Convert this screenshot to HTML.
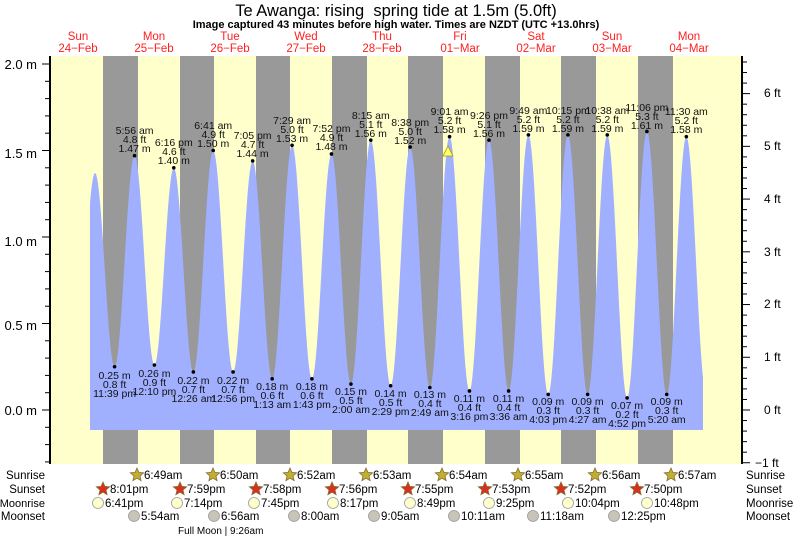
<!DOCTYPE html>
<html><head><meta charset="utf-8"><style>
html,body{margin:0;padding:0;background:#fff}
svg{display:block;font-family:"Liberation Sans",sans-serif}
</style></head><body>
<svg id="s" width="793" height="537" viewBox="0 0 793 537" xmlns="http://www.w3.org/2000/svg">
<defs><clipPath id="c"><rect x="90" y="0" width="613" height="537"/></clipPath></defs>
<rect x="50" y="56" width="692" height="408" fill="#ffffcc"/>
<g fill="#999999">
<rect x="103" y="56" width="35" height="408"/><rect x="180" y="56" width="34" height="408"/>
<rect x="256" y="56" width="34" height="408"/><rect x="332" y="56" width="35" height="408"/>
<rect x="408" y="56" width="35" height="408"/><rect x="485" y="56" width="35" height="408"/>
<rect x="561" y="56" width="35" height="408"/><rect x="638" y="56" width="35" height="408"/>
</g>
<path id="tide" fill="#a0b0ff" clip-path="url(#c)" d=""/>
<line x1="50" y1="56" x2="50" y2="464" stroke="#000" stroke-width="2"/>
<line x1="742" y1="56" x2="742" y2="464" stroke="#000" stroke-width="2"/>
<g id="ticks" stroke="#000" stroke-width="1"></g>
<g font-size="13" fill="#000" text-anchor="end">
<text x="37" y="69">2.0 m</text><text x="37" y="158">1.5 m</text><text x="37" y="246">1.0 m</text><text x="37" y="330">0.5 m</text><text x="37" y="415">0.0 m</text>
</g>
<g font-size="12" fill="#000">
<text x="764" y="97">6 ft</text><text x="764" y="150">5 ft</text><text x="764" y="203">4 ft</text><text x="764" y="256">3 ft</text><text x="764" y="308">2 ft</text><text x="764" y="361">1 ft</text><text x="764" y="414">0 ft</text><text x="755" y="467">−1 ft</text>
</g>
<text x="396" y="16" font-size="16.5" text-anchor="middle" xml:space="preserve">Te Awanga: rising  spring tide at 1.5m (5.0ft)</text>
<text x="396" y="28" font-size="11" font-weight="bold" text-anchor="middle">Image captured 43 minutes before high water. Times are NZDT (UTC +13.0hrs)</text>
<g font-size="11.5" fill="#ff2020" text-anchor="middle">
<text x="78" y="40">Sun</text><text x="78" y="52">24−Feb</text>
<text x="154" y="40">Mon</text><text x="154" y="52">25−Feb</text>
<text x="230" y="40">Tue</text><text x="230" y="52">26−Feb</text>
<text x="306" y="40">Wed</text><text x="306" y="52">27−Feb</text>
<text x="382" y="40">Thu</text><text x="382" y="52">28−Feb</text>
<text x="460" y="40">Fri</text><text x="460" y="52">01−Mar</text>
<text x="536" y="40">Sat</text><text x="536" y="52">02−Mar</text>
<text x="612" y="40">Sun</text><text x="612" y="52">03−Mar</text>
<text x="689" y="40">Mon</text><text x="689" y="52">04−Mar</text>
</g>
<g id="dots" fill="#000"></g>
<polygon points="443,156 453,156 448,146" fill="#ffff66" stroke="#aa9900" stroke-width="0.8"/>
<g font-size="10.5" fill="#111" text-anchor="middle">
<text x="134.6" y="134">5:56 am</text><text x="134.6" y="143">4.8 ft</text><text x="134.6" y="152">1.47 m</text>
<text x="173.8" y="146">6:16 pm</text><text x="173.8" y="155">4.6 ft</text><text x="173.8" y="164">1.40 m</text>
<text x="213.2" y="129">6:41 am</text><text x="213.2" y="138">4.9 ft</text><text x="213.2" y="147">1.50 m</text>
<text x="252.6" y="139">7:05 pm</text><text x="252.6" y="148">4.7 ft</text><text x="252.6" y="157">1.44 m</text>
<text x="292.1" y="124">7:29 am</text><text x="292.1" y="133">5.0 ft</text><text x="292.1" y="142">1.53 m</text>
<text x="331.5" y="132">7:52 pm</text><text x="331.5" y="141">4.9 ft</text><text x="331.5" y="150">1.48 m</text>
<text x="370.8" y="119">8:15 am</text><text x="370.8" y="128">5.1 ft</text><text x="370.8" y="137">1.56 m</text>
<text x="410.2" y="126">8:38 pm</text><text x="410.2" y="135">5.0 ft</text><text x="410.2" y="144">1.52 m</text>
<text x="449.6" y="115">9:01 am</text><text x="449.6" y="124">5.2 ft</text><text x="449.6" y="133">1.58 m</text>
<text x="489" y="119">9:26 pm</text><text x="489" y="128">5.1 ft</text><text x="489" y="137">1.56 m</text>
<text x="528.4" y="114">9:49 am</text><text x="528.4" y="123">5.2 ft</text><text x="528.4" y="132">1.59 m</text>
<text x="567.9" y="114">10:15 pm</text><text x="567.9" y="123">5.2 ft</text><text x="567.9" y="132">1.59 m</text>
<text x="607.3" y="114">10:38 am</text><text x="607.3" y="123">5.2 ft</text><text x="607.3" y="132">1.59 m</text>
<text x="646.9" y="111">11:06 pm</text><text x="646.9" y="120">5.3 ft</text><text x="646.9" y="129">1.61 m</text>
<text x="686.3" y="115">11:30 am</text><text x="686.3" y="124">5.2 ft</text><text x="686.3" y="133">1.58 m</text>
</g>
<g font-size="11.5" fill="#000">
<text x="45" y="479" text-anchor="end">Sunrise</text><text x="45" y="493" text-anchor="end">Sunset</text>
<text x="45" y="507" text-anchor="end" font-size="11">Moonrise</text><text x="45" y="520" text-anchor="end">Moonset</text>
<text x="746" y="479">Sunrise</text><text x="746" y="493">Sunset</text>
<text x="746" y="507">Moonrise</text><text x="746" y="520">Moonset</text>
<text x="178" y="534" font-size="10">Full Moon | 9:26am</text>
</g>
<g id="bot" fill="#000"></g>
<g font-size="11.5" fill="#000">
<text x="144" y="479">6:49am</text><text x="220" y="479">6:50am</text><text x="297" y="479">6:52am</text><text x="373" y="479">6:53am</text><text x="449" y="479">6:54am</text><text x="525" y="479">6:55am</text><text x="602" y="479">6:56am</text><text x="678" y="479">6:57am</text>
<text x="110" y="493">8:01pm</text><text x="187" y="493">7:59pm</text><text x="263" y="493">7:58pm</text><text x="339" y="493">7:56pm</text><text x="415" y="493">7:55pm</text><text x="492" y="493">7:53pm</text><text x="568" y="493">7:52pm</text><text x="644" y="493">7:50pm</text>
<text x="105" y="507">6:41pm</text><text x="184" y="507">7:14pm</text><text x="261" y="507">7:45pm</text><text x="340" y="507">8:17pm</text><text x="417" y="507">8:49pm</text><text x="496" y="507">9:25pm</text><text x="575" y="507">10:04pm</text><text x="654" y="507">10:48pm</text>
<text x="141" y="520">5:54am</text><text x="221" y="520">6:56am</text><text x="301" y="520">8:00am</text><text x="381" y="520">9:05am</text><text x="461" y="520">10:11am</text><text x="540" y="520">11:18am</text><text x="621" y="520">12:25pm</text>
</g>
<g font-size="10.5" fill="#111" text-anchor="middle">
<text x="114.6" y="379">0.25 m</text><text x="114.6" y="388">0.8 ft</text><text x="114.6" y="397">11:39 pm</text>
<text x="154.4" y="377">0.26 m</text><text x="154.4" y="386">0.9 ft</text><text x="154.4" y="395">12:10 pm</text>
<text x="193.4" y="384">0.22 m</text><text x="193.4" y="393">0.7 ft</text><text x="193.4" y="402">12:26 am</text>
<text x="233.1" y="384">0.22 m</text><text x="233.1" y="393">0.7 ft</text><text x="233.1" y="402">12:56 pm</text>
<text x="272.2" y="390">0.18 m</text><text x="272.2" y="399">0.6 ft</text><text x="272.2" y="408">1:13 am</text>
<text x="311.9" y="390">0.18 m</text><text x="311.9" y="399">0.6 ft</text><text x="311.9" y="408">1:43 pm</text>
<text x="351" y="395">0.15 m</text><text x="351" y="404">0.5 ft</text><text x="351" y="413">2:00 am</text>
<text x="390.6" y="397">0.14 m</text><text x="390.6" y="406">0.5 ft</text><text x="390.6" y="415">2:29 pm</text>
<text x="429.9" y="398">0.13 m</text><text x="429.9" y="407">0.4 ft</text><text x="429.9" y="416">2:49 am</text>
<text x="469.4" y="402">0.11 m</text><text x="469.4" y="411">0.4 ft</text><text x="469.4" y="420">3:16 pm</text>
<text x="508.6" y="402">0.11 m</text><text x="508.6" y="411">0.4 ft</text><text x="508.6" y="420">3:36 am</text>
<text x="548.2" y="405">0.09 m</text><text x="548.2" y="414">0.3 ft</text><text x="548.2" y="423">4:03 pm</text>
<text x="587.6" y="405">0.09 m</text><text x="587.6" y="414">0.3 ft</text><text x="587.6" y="423">4:27 am</text>
<text x="627.1" y="409">0.07 m</text><text x="627.1" y="418">0.2 ft</text><text x="627.1" y="427">4:52 pm</text>
<text x="666.7" y="405">0.09 m</text><text x="666.7" y="414">0.3 ft</text><text x="666.7" y="423">5:20 am</text>
</g>
</svg>
<script>
var NS="http://www.w3.org/2000/svg";
function X(t){return 115.7+3.179*t;}function Y(h){return 410-173*h;}
var E=[[-12.7,0.25],[-6.5,1.37],[-0.35,0.25],[5.93,1.47],[12.17,0.26],[18.27,1.40],[24.43,0.22],[30.68,1.50],[36.93,0.22],[43.08,1.44],[49.22,0.18],[55.48,1.53],[61.72,0.18],[67.87,1.48],[74.0,0.15],[80.25,1.56],[86.48,0.14],[92.63,1.52],[98.82,0.13],[105.02,1.58],[111.27,0.11],[117.43,1.56],[123.6,0.11],[129.82,1.59],[136.05,0.09],[142.25,1.59],[148.45,0.09],[154.63,1.59],[160.87,0.07],[167.1,1.61],[173.33,0.09],[179.5,1.58],[185.7,0.1]];
var d="M"+X(-12.7)+",430";
for(var i=0;i<E.length-1;i++){var a=E[i],b=E[i+1];for(var k=0;k<=20;k++){var f=k/20,t=a[0]+(b[0]-a[0])*f,h=a[1]+(b[1]-a[1])*(1-Math.cos(Math.PI*f))/2;d+=" L"+X(t).toFixed(2)+","+Y(h).toFixed(2);}}
d+=" L"+X(185.7)+",430 Z";
document.getElementById("tide").setAttribute("d",d);
var dots=document.getElementById("dots");
for(var i=2;i<E.length-1;i++){var c=document.createElementNS(NS,"circle");c.setAttribute("cx",X(E[i][0]));c.setAttribute("cy",Y(E[i][1]));c.setAttribute("r",1.8);dots.appendChild(c);}
var tk=document.getElementById("ticks");
function ln(x1,y1,x2,y2){var l=document.createElementNS(NS,"line");l.setAttribute("x1",x1);l.setAttribute("y1",y1);l.setAttribute("x2",x2);l.setAttribute("y2",y2);tk.appendChild(l);}
for(var m=-0.3;m<=2.06;m+=0.1){var y=Y(m);if(y<56||y>464)continue;var maj=Math.abs(m*2-Math.round(m*2))<0.01;ln(maj?42:45,y,50,y);}
for(var ft=-1;ft<=6.8;ft+=0.2){var y=410-52.73*ft;if(y<56||y>464)continue;var maj=Math.abs(ft-Math.round(ft))<0.01;ln(742,y,maj?750:747,y);}
var bot=document.getElementById("bot");
function star(cx,cy,fill){var p="";for(var j=0;j<10;j++){var r=j%2?3.2:7,an=-Math.PI/2+j*Math.PI/5;p+=(cx+r*Math.cos(an)).toFixed(1)+","+(cy+r*Math.sin(an)).toFixed(1)+" ";}var s=document.createElementNS(NS,"polygon");s.setAttribute("points",p);s.setAttribute("fill",fill);s.setAttribute("stroke","#8a6a30");s.setAttribute("stroke-width","0.8");bot.appendChild(s);}
function circ(cx,cy,fill){var c=document.createElementNS(NS,"circle");c.setAttribute("cx",cx);c.setAttribute("cy",cy);c.setAttribute("r",5.5);c.setAttribute("fill",fill);c.setAttribute("stroke","#999");c.setAttribute("stroke-width","0.8");bot.appendChild(c);}
[137,213,290,366,442,518,595,671].forEach(function(x){star(x,475,"#c0b030");});
[103,180,256,332,408,485,561,637].forEach(function(x){star(x,489,"#d83020");});
[98,177,254,333,410,489,568,647].forEach(function(x){circ(x,503,"#ffffcc");});
[134,214,294,374,454,533,614].forEach(function(x){circ(x,516,"#c8c4b8");});
</script>
</body></html>
